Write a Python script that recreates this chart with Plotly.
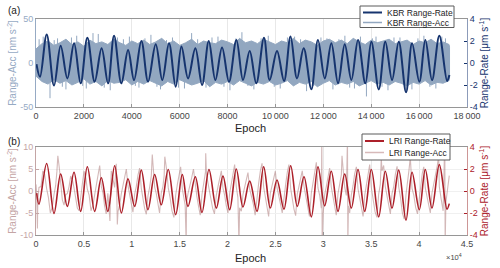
import plotly.graph_objects as go

# ---------------- Panel (a): KBR ----------------
kbr_rate_epoch = [20, 167, 447, 752, 1030, 1310, 1590, 1865, 2145, 2450, 2740, 3010, 3260, 3565,
                  3845, 4095, 4400, 4680, 5000, 5275, 5555, 5835, 6075, 6350, 6655, 6935, 7215,
                  7490, 7770, 8060, 8370, 8645, 8925, 9200, 9520, 9760, 10065, 10360, 10630,
                  10900, 11180, 11500, 11775, 12060, 12335, 12615, 12895, 13170, 13450, 13755,
                  14005, 14315, 14590, 14870, 15150, 15455, 15705, 16010, 16260, 16540, 16845,
                  17170, 17265]
kbr_rate = [-0.1, -1.25, 2.6, -2.05, 1.57, -1.4, 1.79, -1.85, 2.3, -1.7, 1.33, -1.85, 2.48, -1.85,
            1.18, -1.55, 2.0, -1.7, 1.7, -1.55, 1.79, -2.15, 1.5, -1.4, 1.33, -2.0, 2.0,
            -1.55, 1.42, -1.7, 2.1, -1.55, 1.1, -1.85, 2.3, -1.55, 1.1, -1.64, 2.4,
            -1.4, 1.33, -2.38, 2.1, -1.4, 1.79, -1.85, 1.7, -1.55, 2.1, -1.85,
            1.94, -2.4, 1.94, -1.55, 1.94, -2.67, 1.79, -1.7, 2.1, -1.55, 2.48,
            -1.64, -1.1]

kbr_acc_epoch = list(range(0, 17251, 250)) + [17270]
kbr_acc_upper = [16, 22, 25, 20, 23, 27, 21, 24, 19, 26, 22, 24, 21, 27, 23, 20, 25, 22, 26, 21,
                 24, 28, 22, 25, 20, 23, 27, 21, 25, 23, 22, 26, 24, 21, 28, 23, 25, 22, 27, 24,
                 21, 25, 23, 28, 22, 26, 24, 20, 25, 27, 23, 26, 22, 28, 24, 21, 26, 23, 25, 27,
                 22, 24, 26, 21, 25, 23, 27, 22, 24, 21, 18]
kbr_acc_lower = [-15, -21, -24, -19, -23, -20, -25, -22, -18, -24, -21, -26, -20, -23, -22, -19,
                 -25, -21, -24, -20, -23, -26, -21, -24, -19, -22, -25, -23, -20, -27, -22, -24,
                 -21, -25, -20, -23, -26, -22, -24, -21, -25, -23, -20, -26, -22, -24, -21, -27,
                 -23, -20, -25, -22, -24, -21, -26, -23, -20, -24, -22, -25, -21, -23, -26, -22,
                 -24, -20, -25, -22, -23, -20, -17]
kbr_spike_epoch = [130, 300, 585, 760, 900, 1100, 1250, 1480, 1700, 1950, 2100, 2380, 2600, 2850,
                   3100, 3400, 3650, 3900, 4150, 4300, 4550, 4800, 5050, 5200, 5450, 5700, 5950,
                   6200, 6500, 6750, 7100, 7350, 7600, 7850, 8100, 8350, 8600, 8850, 9100, 9400,
                   9700, 9950, 10200, 10500, 10800, 11050, 11300, 11600, 11900, 12150, 12400,
                   12650, 12900, 13100, 13300, 13550, 13800, 14050, 14200, 14450, 14700, 14950,
                   15200, 15450, 15700, 15950, 16200, 16450, 16700, 16950, 17100]
kbr_spike = [27, 30, -40, 26, 28, -27, -30, 29, 31, -26, -29, 34, 33, -28, -31, 29, 27, 30, -26,
             -28, 28, 32, -27, -30, 26, 29, -28, -29, 34, 27, -28, 29, 30, -27, -31, 28, 35, -26,
             -30, 28, 31, -27, -29, 29, 30, 27, -32, -26, 29, 28, -30, 27, 31, -28, -29, 30,
             -38, 28, 30, -27, -31, 29, 29, -33, -30, 28, 31, -27, -29, 30, 28]

# ---------------- Panel (b): LRI ----------------
lri_rate_epoch = [70, 310, 1115, 1880, 2575, 3270, 3970, 4665, 5360, 6125, 6820, 7500, 8215, 8910,
                  9605, 10300, 10995, 11690, 12390, 13080, 13810, 14585, 15275, 15870, 16635,
                  17330, 18060, 18825, 19520, 20220, 20910, 21610, 22310, 23075, 23770, 24460,
                  25160, 25890, 26590, 27280, 27980, 28745, 29440, 30140, 30830, 31530, 32230,
                  32920, 33620, 34320, 35010, 35780, 36470, 37170, 37870, 38630, 39260, 40020,
                  40645, 41340, 42110, 42910, 43150]
lri_rate = [-0.2, -1.2, 2.5, -2.05, 1.55, -1.4, 1.7, -1.85, 2.2, -1.85, 1.2, -1.85, 2.3, -2.0,
            1.1, -1.4, 1.9, -1.7, 1.5, -1.25, 1.95, -2.15, 1.5, -1.4, 1.3,
            -1.95, 1.95, -1.55, 1.35, -1.7, 2.0, -1.45, 0.9, -1.85, 2.2, -1.55,
            1.0, -1.65, 2.3, -1.4, 1.3, -2.35, 2.2, -1.35, 1.8, -1.85, 1.55,
            -1.55, 1.95, -1.85, 1.95, -2.35, 1.8, -1.55, 1.9, -2.65, 1.7, -1.7,
            1.95, -1.55, 2.4, -1.65, -1.15]

lri_acc_epoch = [0, 70, 150, 190, 310, 712, 1115, 1497, 1880, 2180, 2280, 2575, 2922, 3270, 3620,
                 3970, 4317, 4665, 5012, 5360, 5742, 6125, 6472, 6820, 7160, 7500, 7720, 7857,
                 8215, 8490, 8562, 8910, 9257, 9605, 9952, 10300, 10647, 10995, 11342, 11690,
                 12040, 12140, 12390, 12735, 13080, 13380, 13450, 13810, 14197, 14585, 14930,
                 15275, 15572, 15680, 15720, 15870, 16252, 16635, 16982, 17330, 17695, 17720,
                 17800, 18060, 18442, 18825, 19172, 19520, 19870, 20220, 20565, 20910, 21190,
                 21260, 21610, 21960, 22310, 22692, 23075, 23422, 23770, 24115, 24460, 24810,
                 25160, 25525, 25890, 26240, 26590, 26935, 27280, 27630, 27980, 28362, 28745,
                 29092, 29440, 29790, 29840, 29880, 30140, 30485, 30830, 31180, 31530, 31880,
                 31950, 32230, 32520, 32560, 32620, 32920, 33270, 33620, 33970, 34320, 34665,
                 35010, 35395, 35780, 36050, 36125, 36470, 36820, 37170, 37520, 37870, 38250,
                 38630, 38945, 39080, 39260, 39640, 40020, 40332, 40645, 40992, 41340, 41725,
                 42040, 42110, 42510, 42680, 42720, 42910, 43030, 43150]
lri_acc = [1.5, -0.5, -8.5, -2.0, 0.8, 4.6, 0.5, -5.0, -0.8, 4.4, 8.0, 0.9, -3.2, -0.6, 3.4,
           0.7, -3.9, -1.0, 4.5, 0.4, -4.5, -0.9, 3.4, 1.0, -3.4, -0.5, -6.8, 4.6,
           0.8, -7.6, -4.7, -0.6, 3.4, 1.2, -2.8, -0.7, 3.6, 0.6, -4.0, -1.1,
           3.5, 8.3, 0.9, -3.0, -0.4, 3.5, 7.8, 0.7, -4.5, -0.9, 4.0,
           0.5, -3.2, -12, -2.5, -0.6, 3.0, 0.9, -3.6, -0.8, 4.3, 8.6,
           3.8, 0.6, -3.9, -1.0, 3.2, 0.7, -3.4, -0.5, 4.1, 1.0, -12,
           -3.8, -0.8, 2.6, 0.4, -3.0, -1.0, 4.5, 0.9, -4.1, -0.6, 2.8,
           0.8, -2.9, -0.9, 4.3, 0.6, -4.1, -0.7, 3.0, 1.1, -4.0, -0.5,
           5.0, 0.7, -3.9, 12, -12, -0.8, 3.5, 0.9, -4.0, -0.6, 3.7,
           8.0, 0.8, 12, -12, -3.4, -0.9, 3.9, 0.5, -4.2, -1.0, 4.2,
           0.8, -4.7, -0.7, 7.5, 4.6, 1.0, -3.7, -0.6, 3.8, 0.9, -5.0,
           -0.8, 4.8, 7.7, 0.6, -3.7, -1.0, 4.0, 0.7, -3.8, -0.5, 4.3,
           8.0, 1.0, -4.5, 12, -12, -0.8, 1.5, 3.5]

# extra in-between wiggles of the LRI range-acc trace
lri_acc_extra_epoch = [520, 900, 1300, 1700, 2050, 2420, 2750, 3100, 3450, 3800, 4150, 4500, 4850,
                       5200, 5550, 5950, 6300, 6650, 7000, 7330, 8050, 8380, 8750, 9080, 9430,
                       9780, 10120, 10470, 10820, 11170, 11520, 11860, 12560, 12900, 13250, 13640,
                       14000, 14400, 14760, 15100, 15420, 16060, 16440, 16800, 17150, 17520,
                       18250, 18630, 19000, 19350, 19700, 20050, 20400, 20740, 21080, 21440,
                       21780, 22130, 22500, 22880, 23250, 23600, 23940, 24290, 24630, 24990,
                       25340, 25710, 26060, 26410, 26760, 27110, 27450, 27800, 28170, 28550,
                       28920, 29270, 29620, 29980, 30310, 30660, 31000, 31350, 31700, 32060,
                       32400, 32750, 33100, 33450, 33800, 34150, 34490, 34840, 35200, 35600,
                       35950, 36300, 36650, 37000, 37350, 37700, 38060, 38440, 38790, 39450,
                       39830, 40180, 40490, 40820, 41170, 41530, 41900, 42300, 42800]
lri_acc_extra = [1.0, 3.8, -1.5, -3.6, 1.2, 5.5, -2.0, -0.8, 1.0, 2.5, -2.2, -4.5, 1.8,
                 3.0, -1.0, -3.2, 1.6, 5.8, -0.5, -5.2, 2.0, 6.2, -3.0, 1.2, 5.0,
                 -1.2, -4.8, 1.0, 5.2, -1.8, -5.3, 0.8, -0.6, -5.0, 1.0, 4.8,
                 -1.5, -6.0, 1.5, 5.5, -1.0, 1.0, 5.0, -1.3, -5.5, 1.5,
                 -1.7, -5.2, 1.0, 4.6, -1.0, -5.0, 1.5, 6.0, -1.5, -4.6,
                 0.8, 4.2, -1.2, -5.5, 1.8, 6.3, -1.5, -5.8, 1.0, 4.5,
                 -0.8, -5.0, 1.4, 6.0, -1.8, -5.6, 1.0, 4.6, -1.4, -5.8,
                 1.8, 6.5, -1.0, -5.2, 1.0, 5.2, -1.4, -5.5, 1.2, 5.0,
                 -1.0, -5.0, 1.2, 5.5, -1.6, -5.8, 1.5, 6.0, -1.8, -6.0,
                 1.5, 5.8, -1.2, -5.2, 1.0, 5.6, -1.5, -6.4, 1.5, -1.0,
                 -5.2, 1.2, 5.5, -1.4, -5.0, 1.5, 5.8, -1.8, -2.5]

top_xticks = [0, 2000, 4000, 6000, 8000, 10000, 12000, 14000, 16000, 18000]
top_xlabels = ["0", "2000", "4000", "6000", "8000", "10\u2009000", "12\u2009000",
               "14\u2009000", "16\u2009000", "18\u2009000"]
bot_xticks = [0, 5000, 10000, 15000, 20000, 25000, 30000, 35000, 40000, 45000]
bot_xlabels = ["0", "0.5", "1", "1.5", "2", "2.5", "3", "3.5", "4", "4.5"]
rate_ticks = [-4, -2, 0, 2, 4]
rate_labels = ["-4", "-2", "0", "2", "4"]
acc_a_ticks = [-50, 0, 50]
acc_a_labels = ["-50", "0", "50"]
acc_b_ticks = [-10, -5, 0, 5, 10]
acc_b_labels = ["-10", "-5", "0", "5", "10"]

# colours
BAND = "rgb(146,167,192)"
NAVY = "rgb(22,52,110)"
ACC_A_TXT = "rgb(150,170,196)"
PINK = "rgba(175,125,125,0.55)"
PINK_LEG = "rgb(215,185,185)"
RED = "rgb(172,32,42)"
ACC_B_TXT = "rgb(196,165,165)"
GRID = "rgb(232,232,232)"
FRAME = "rgb(150,150,150)"
TXT = "rgb(35,35,35)"
FONT = "Liberation Sans, Arial, sans-serif"

# merge the two typed LRI range-acc lists in epoch order
lri_pts = sorted(zip(lri_acc_epoch + lri_acc_extra_epoch, lri_acc + lri_acc_extra))
lri_x = [p[0] for p in lri_pts]
lri_y = [p[1] for p in lri_pts]

fig = go.Figure()

fig.add_trace(go.Scatter(
    x=kbr_acc_epoch + kbr_acc_epoch[::-1],
    y=kbr_acc_upper + kbr_acc_lower[::-1],
    fill="toself", fillcolor=BAND, mode="lines",
    line=dict(color=BAND, width=1), showlegend=False,
    xaxis="x", yaxis="y", hoverinfo="skip"))
sx, sy = [], []
for e, v in zip(kbr_spike_epoch, kbr_spike):
    sx += [e, e, None]
    sy += [0, v, None]
fig.add_trace(go.Scatter(
    x=sx, y=sy, mode="lines", line=dict(color=BAND, width=1),
    name="KBR Range-Acc", showlegend=False,
    xaxis="x", yaxis="y", hoverinfo="skip"))
fig.add_trace(go.Scatter(
    x=kbr_rate_epoch, y=kbr_rate, mode="lines",
    line=dict(color=NAVY, width=2, shape="spline", smoothing=1.0),
    name="KBR Range-Rate", showlegend=False,
    xaxis="x", yaxis="y2", hoverinfo="skip"))

fig.add_trace(go.Scatter(
    x=lri_x, y=lri_y, mode="lines",
    line=dict(color=PINK, width=1.1),
    name="LRI Range-Acc", showlegend=False,
    xaxis="x2", yaxis="y3", hoverinfo="skip"))
fig.add_trace(go.Scatter(
    x=lri_rate_epoch, y=lri_rate, mode="lines",
    line=dict(color=RED, width=1.6, shape="spline", smoothing=1.0),
    name="LRI Range-Rate", showlegend=False,
    xaxis="x2", yaxis="y4", hoverinfo="skip"))

TOP_DOM = [0.5926, 1.0]
BOT_DOM = [0.0, 0.4074]

tickf = dict(family=FONT, size=9, color="rgb(70,70,70)")


def xax(anchor, rng, tv, tt):
    return dict(domain=[0, 1], anchor=anchor, range=rng, tickvals=tv, ticktext=tt,
                ticks="inside", ticklen=3, tickcolor=FRAME,
                showline=True, mirror=True, linecolor=FRAME, linewidth=1,
                showgrid=True, gridcolor=GRID, zeroline=False, tickfont=tickf)


def yleft(dom, anchor, rng, tv, tt, col, grid):
    return dict(domain=dom, anchor=anchor, range=rng, tickvals=tv, ticktext=tt,
                ticks="inside", ticklen=3, tickcolor=col,
                showline=True, linecolor=col, linewidth=1,
                showgrid=grid, gridcolor="rgb(240,240,240)", zeroline=False,
                tickfont=dict(family=FONT, size=9, color=col),
                title=dict(text="Range-Acc [nm s<sup>-2</sup>]",
                           font=dict(family=FONT, size=10, color=col), standoff=1))


def yright(over, anchor, col, linecol):
    return dict(overlaying=over, side="right", anchor=anchor, range=[-4, 4],
                tickvals=rate_ticks, ticktext=rate_labels, ticks="inside", ticklen=3,
                tickcolor=col, showline=True, linecolor=linecol, linewidth=1,
                showgrid=False, zeroline=False,
                tickfont=dict(family=FONT, size=9, color=col),
                title=dict(text="Range-Rate [\u03bcm s<sup>-1</sup>]",
                           font=dict(family=FONT, size=10, color=col), standoff=1))


def px2x(px):
    return (px - 36) / 431.0


def px2y(py):
    return (235 - py) / 216.0


shapes = []
annotations = []


def legend_box(x0, x1, y0, y1, entries):
    shapes.append(dict(type="rect", xref="paper", yref="paper", layer="above",
                       x0=px2x(x0), x1=px2x(x1), y0=px2y(y1), y1=px2y(y0),
                       fillcolor="white", line=dict(color="rgb(90,90,90)", width=1)))
    for (py, col, w, label) in entries:
        shapes.append(dict(type="line", xref="paper", yref="paper", layer="above",
                           x0=px2x(x0 + 3), x1=px2x(x0 + 22), y0=px2y(py), y1=px2y(py),
                           line=dict(color=col, width=w)))
        annotations.append(dict(text=label, xref="paper", yref="paper",
                                x=px2x(x0 + 25), y=px2y(py), xanchor="left",
                                yanchor="middle", showarrow=False,
                                font=dict(family=FONT, size=8.5, color=TXT)))


legend_box(360, 454, 6, 27.5, [(12.5, NAVY, 2, "KBR Range-Rate"),
                               (22.5, BAND, 1.5, "KBR Range-Acc")])
legend_box(362, 450, 134, 160, [(141, RED, 2, "LRI Range-Rate"),
                                (152.5, PINK_LEG, 1.5, "LRI Range-Acc")])

annotations += [
    dict(text="(a)", xref="paper", yref="paper", x=px2x(6), y=px2y(10.5),
         xanchor="left", yanchor="middle", showarrow=False,
         font=dict(family=FONT, size=10, color=TXT)),
    dict(text="(b)", xref="paper", yref="paper", x=px2x(6), y=px2y(141),
         xanchor="left", yanchor="middle", showarrow=False,
         font=dict(family=FONT, size=10, color=TXT)),
    dict(text="Epoch", xref="paper", yref="paper", x=px2x(250.5), y=px2y(127.5),
         xanchor="center", yanchor="middle", showarrow=False,
         font=dict(family=FONT, size=11, color=TXT)),
    dict(text="Epoch", xref="paper", yref="paper", x=px2x(250.5), y=px2y(258),
         xanchor="center", yanchor="middle", showarrow=False,
         font=dict(family=FONT, size=11, color=TXT)),
    dict(text="\u00d710<sup>4</sup>", xref="paper", yref="paper", x=px2x(464), y=px2y(257),
         xanchor="right", yanchor="middle", showarrow=False,
         font=dict(family=FONT, size=7.5, color="rgb(70,70,70)")),
]

fig.update_layout(
    width=500, height=268,
    margin=dict(l=36, r=33, t=19, b=33),
    paper_bgcolor="white", plot_bgcolor="white",
    font=dict(family=FONT, size=9, color=TXT),
    showlegend=False,
    xaxis=xax("y", [0, 18000], top_xticks, top_xlabels),
    yaxis=yleft(TOP_DOM, "x", [-50, 50], acc_a_ticks, acc_a_labels, ACC_A_TXT, False),
    yaxis2=yright("y", "x", NAVY, "rgb(140,155,185)"),
    xaxis2=xax("y3", [0, 45000], bot_xticks, bot_xlabels),
    yaxis3=yleft(BOT_DOM, "x2", [-10, 10], acc_b_ticks, acc_b_labels, ACC_B_TXT, True),
    yaxis4=yright("y3", "x2", RED, "rgb(205,150,150)"),
    shapes=shapes,
    annotations=annotations,
)

fig.write_html("out.html", config={"displayModeBar": False},
               post_script="document.body.style.margin='0';document.body.style.padding='0';")
